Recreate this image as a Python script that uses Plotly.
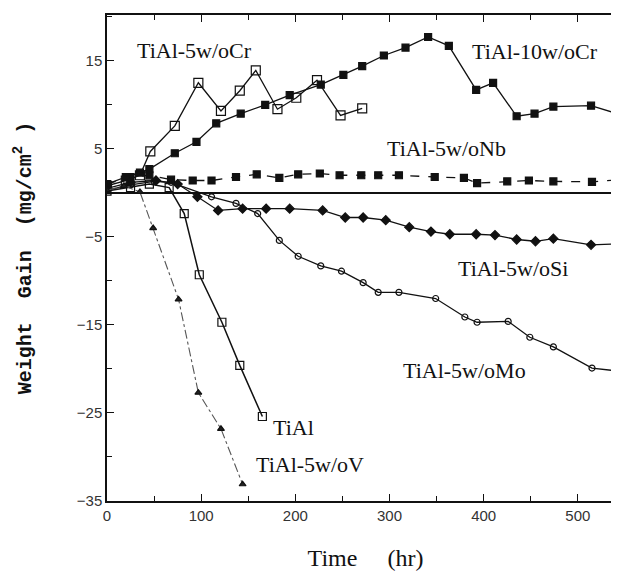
import plotly.graph_objects as go

# ---- data (time in hr, weight gain in mg/cm^2) ----
t_5Cr = [0, 20, 35, 46, 72, 97, 121, 141, 158, 181, 201, 223, 248, 271]
w_5Cr = [0.8, 1.4, 2.0, 4.7, 7.6, 12.5, 9.3, 11.6, 13.9, 9.5, 10.8, 12.8, 8.8, 9.6]

t_10Cr = [0, 20, 35, 45, 72, 95, 116, 142, 168, 194, 227, 251, 271, 294, 317, 341,
          363, 392, 410, 435, 454, 474, 514, 545]
w_10Cr = [1.0, 1.8, 2.3, 2.7, 4.5, 5.8, 7.9, 9.0, 10.0, 11.1, 12.3, 13.4, 14.4, 15.6,
          16.5, 17.7, 16.7, 11.7, 12.5, 8.7, 9.0, 9.8, 9.9, 8.9]

t_Nb = [0, 25, 45, 68, 91, 111, 137, 159, 183, 203, 226, 247, 270, 288, 310, 348,
        379, 393, 425, 448, 474, 515, 545]
w_Nb = [1.0, 1.8, 2.0, 1.5, 1.4, 1.4, 1.8, 2.1, 1.7, 2.1, 2.2, 2.0, 2.0, 2.0, 2.0,
        1.8, 1.7, 1.1, 1.3, 1.4, 1.3, 1.25, 1.5]

t_Si = [0, 25, 52, 75, 96, 118, 144, 169, 194, 229, 253, 272, 296, 321, 344, 364,
        392, 412, 435, 455, 474, 514, 545]
w_Si = [0.5, 1.2, 1.4, 1.0, -0.45, -2.0, -1.8, -1.8, -1.8, -2.0, -2.8, -2.8, -3.1,
        -3.9, -4.4, -4.7, -4.7, -4.8, -5.3, -5.5, -5.2, -5.9, -5.8]

t_Mo = [0, 25, 50, 68, 111, 137, 160, 183, 203, 227, 249, 272, 288, 310, 349, 380,
        393, 426, 449, 474, 515, 547]
w_Mo = [0.3, 0.9, 1.3, 1.2, -0.45, -1.2, -2.35, -5.4, -7.2, -8.3, -8.9, -10.2, -11.3,
        -11.3, -12.0, -14.1, -14.7, -14.6, -16.4, -17.5, -19.9, -20.3]

t_TiAl = [0, 25, 45, 66, 82, 98, 122, 141, 165]
w_TiAl = [0.2, 0.6, 1.0, 0.6, -2.35, -9.3, -14.7, -19.6, -25.4]

t_V = [0, 18, 35, 49, 76, 97, 121, 144]
w_V = [0.3, 0.8, 0.1, -4.0, -12.1, -22.7, -26.8, -33.1]

x_ticks = [0, 100, 200, 300, 400, 500]
y_ticks = [-35, -25, -15, -5, 5, 15]

labels = ["TiAl-5w/oCr", "TiAl-10w/oCr", "TiAl-5w/oNb", "TiAl-5w/oSi",
          "TiAl-5w/oMo", "TiAl", "TiAl-5w/oV"]
label_x = [93, 455, 361, 431, 380, 198, 216]
label_y = [16.2, 16.1, 5.0, -8.6, -20.2, -26.7, -30.8]

fig = go.Figure()

def add(t, w, symbol, size, fill, dash="solid", lcolor="#111", lw=1.3):
    fig.add_trace(go.Scatter(
        x=t, y=w, mode="lines+markers",
        line=dict(color=lcolor, width=lw, dash=dash),
        marker=dict(symbol=symbol, size=size, color=fill,
                    line=dict(color="#111", width=1.2)),
        showlegend=False))

add(t_Nb, w_Nb, "square", 7, "#111", dash="dash")
add(t_10Cr, w_10Cr, "square", 7, "#111")
add(t_5Cr, w_5Cr, "square-open", 9, "#111")
add(t_Si, w_Si, "diamond", 7, "#111")
add(t_Mo, w_Mo, "circle-open", 6, "#111")
add(t_TiAl, w_TiAl, "square-open", 8, "#111", lw=1.5)
add(t_V, w_V, "triangle-up", 6, "#222", dash="dashdot", lcolor="#555", lw=1.1)

for txt, xx, yy in zip(labels, label_x, label_y):
    fig.add_annotation(x=xx, y=yy, text=txt, showarrow=False,
                       font=dict(family="Liberation Serif", size=22, color="#111"))

axis_common = dict(showline=True, linecolor="#111", linewidth=1.5, mirror="ticks",
                   ticks="inside", ticklen=7, tickcolor="#111", tickwidth=1.3,
                   showgrid=False, automargin=False,
                   tickfont=dict(family="Liberation Sans", size=15, color="#333"))

fig.update_xaxes(range=[0, 549], tickvals=x_ticks, zeroline=False,
                 minor=dict(dtick=50, tick0=0, ticks="inside", ticklen=5,
                            tickcolor="#111"),
                 title=dict(text="Time\u00a0\u00a0\u00a0\u00a0\u00a0(hr)", standoff=26,
                            font=dict(family="Liberation Serif", size=24, color="#111")),
                 **axis_common)
fig.update_yaxes(range=[-35, 20.2], tickvals=y_ticks, zeroline=True,
                 zerolinecolor="#111", zerolinewidth=1.6,
                 minor=dict(dtick=10, tick0=0, ticks="inside", ticklen=5,
                            tickcolor="#111"),
                 title=dict(text="<b>Weight\u00a0\u00a0Gain\u00a0\u00a0(mg/cm<sup>2</sup>\u00a0)</b>",
                            standoff=40,
                            font=dict(family="Liberation Mono", size=20, color="#111")),
                 **axis_common)

fig.update_layout(width=619, height=574, margin=dict(l=99, r=3, t=7, b=81),
                  plot_bgcolor="white", paper_bgcolor="white")

fig.write_html("out.html")
